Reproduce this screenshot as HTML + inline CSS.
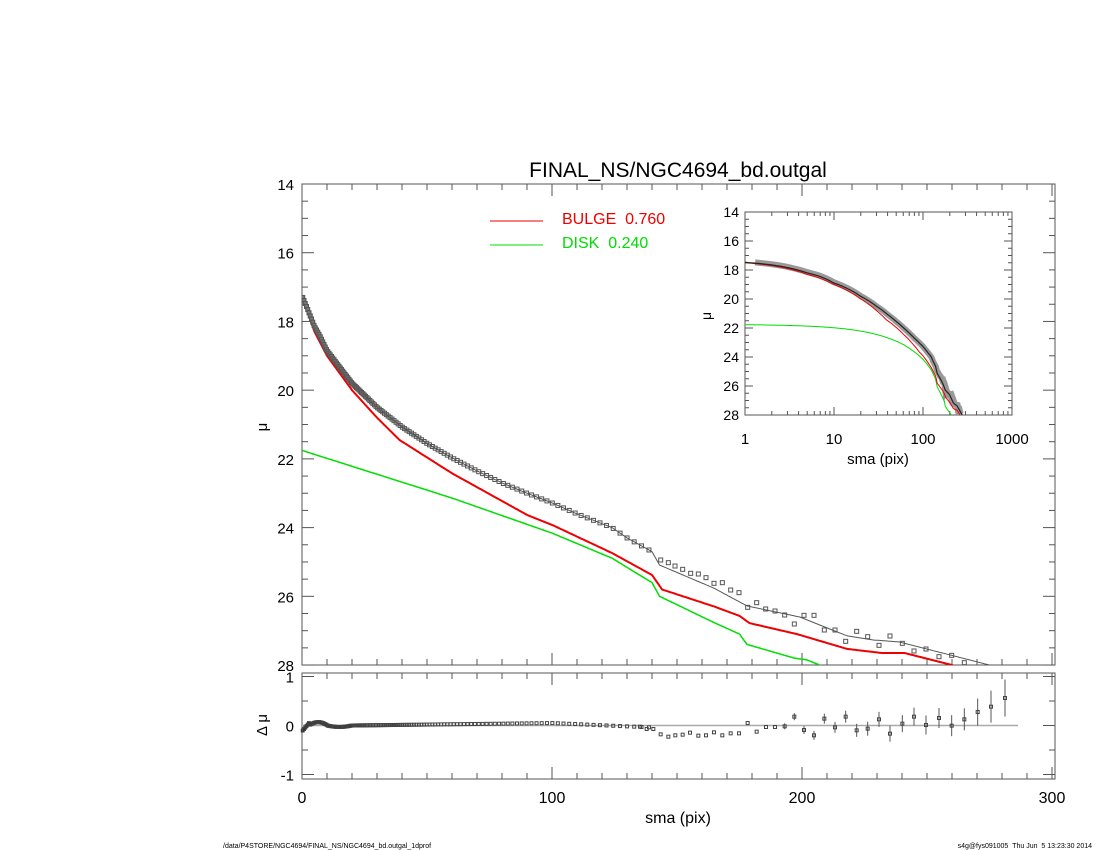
<!DOCTYPE html>
<html><head><meta charset="utf-8"><style>
html,body{margin:0;padding:0;background:#fff;}
svg{display:block;font-family:"Liberation Sans",sans-serif;}
</style></head><body>
<svg id="s" width="1100" height="850" xmlns="http://www.w3.org/2000/svg">
<rect width="1100" height="850" fill="#fff"/>
<text x="678" y="177" font-size="21" text-anchor="middle">FINAL_NS/NGC4694_bd.outgal</text>
<g id="main"></g>
<line x1="490" y1="221" x2="543" y2="221" stroke="#e00" stroke-width="1"/>
<line x1="490" y1="245" x2="543" y2="245" stroke="#0d0" stroke-width="1"/>
<text x="562" y="224" font-size="16" fill="#e00">BULGE&#160;&#160;0.760</text>
<text x="562" y="248" font-size="16" fill="#0d0">DISK&#160;&#160;0.240</text>
<text x="678" y="823" font-size="16" text-anchor="middle">sma (pix)</text>
<text x="223" y="848" font-size="7">/data/P4STORE/NGC4694/FINAL_NS/NGC4694_bd.outgal_1dprof</text>
<text x="1092" y="848" font-size="7" text-anchor="end">s4g@fys091005&#160;&#160;Thu Jun&#160;&#160;5 13:23:30 2014</text>
</svg>
<script>
var NS="http://www.w3.org/2000/svg",g=document.getElementById('main');
function el(t,a,p){var e=document.createElementNS(NS,t);for(var k in a)e.setAttribute(k,a[k]);(p||g).appendChild(e);return e;}
function txt(x,y,s,sz,anc,extra){var e=el('text',Object.assign({x:x,y:y,'font-size':sz,'text-anchor':anc||'middle'},extra||{}));e.textContent=s;return e;}
function interp(t,x){for(var i=0;i<t.length-1;i++){if(x<=t[i+1][0]){var f=(x-t[i][0])/(t[i+1][0]-t[i][0]);return t[i][1]+f*(t[i+1][1]-t[i][1]);}}return t[t.length-1][1];}
var D=[[0,17.25],[2,17.6],[5,18.15],[7,18.4],[10,18.85],[20,19.8],[30,20.5],[40,21.07],[50,21.55],[60,21.97],[70,22.35],[80,22.7],[90,23.0],[100,23.28],[110,23.6],[124,24.0],[130,24.3],[140,24.7]];
var M=[[0,17.3],[2,17.65],[5,18.2],[7,18.45],[10,18.9],[20,19.82],[30,20.5],[40,21.07],[50,21.55],[60,21.97],[70,22.35],[80,22.7],[90,23.0],[100,23.28],[110,23.6],[124,24.0],[130,24.3],[140,24.7],[143,25.09],[164.7,25.76],[178,26.28],[199,26.6],[218,27.15],[228.5,27.27],[239,27.33],[275,28.0],[285,28.3]];
var B=[[0,17.3],[2,17.7],[5,18.3],[10,19.0],[20,20.0],[30,20.8],[39,21.45],[60,22.42],[90,23.63],[100,23.92],[124,24.74],[135,25.18],[140,25.38],[144,25.8],[165,26.3],[175,26.57],[179,26.78],[198,27.1],[218,27.53],[232,27.65],[241,27.65],[260,28.0],[270,28.3]];
var K=[[0,21.75],[2,21.8],[60,23.14],[100,24.16],[124,24.89],[135,25.38],[140,25.6],[143,26.0],[165,26.77],[175,27.1],[178,27.4],[197,27.8],[202,27.85],[207,28.0],[212,28.2]];
var X0=302,X1=1055,Y0=184,Y1=665;
function px(x){return X0+x*2.5;} function py(m){return Y0+(m-14)*34.36;}
var cp=el('clipPath',{id:'c1'});el('rect',{x:X0,y:Y0,width:X1-X0,height:Y1-Y0},cp);
el('rect',{x:X0,y:Y0,width:X1-X0,height:Y1-Y0,fill:'none',stroke:'#555'});
for(var m=14;m<=28;m+=0.5){var y=py(m),L=(m%2==0)?12:6;el('line',{x1:X0,y1:y,x2:X0+L,y2:y,stroke:'#555'});el('line',{x1:X1,y1:y,x2:X1-L,y2:y,stroke:'#555'});if(m%2==0)txt(X0-8,y+6,m,15,'end');}
for(var x=0;x<=300;x+=10){var xx=px(x),L=(x%100==0)?12:6;el('line',{x1:xx,y1:Y0,x2:xx,y2:Y0+L,stroke:'#555'});el('line',{x1:xx,y1:Y1,x2:xx,y2:Y1-L,stroke:'#555'});}
txt(262,432,'μ',15,'middle',{transform:'rotate(-90 262 427)'});
var gc=el('g',{'clip-path':'url(#c1)'});
function line(t,col,w,fx,fy,par,xmax){var s='';for(var x=0;x<=xmax;x+=0.5){s+=(s?'L':'M')+fx(x).toFixed(1)+','+fy(interp(t,x)).toFixed(1);}el('path',{d:s,fill:'none',stroke:col,'stroke-width':w},par);}
line(K,'#0d0',1.5,px,py,gc,212);line(B,'#e00',2,px,py,gc,270);line(M,'#555',1,px,py,gc,285);
// data points
var xs=[];for(var x=0.3;x<=141;){xs.push(x);x=Math.max(x+0.5,x*1.022);}
var extra=[[62,60],[85,68],[105,78],[128,88],[152,100],[175,102],[198,113],[222,130],[247,128],[272,150],[297,158],[323,202],[350,188],[377,207],[405,213],[434,225],[463,252],[492,226],[522,226],[553,270],[585,270],[617,304],[650,274],[683,290],[717,316],[750,288],[787,310],[822,333],[858,327],[897,350],[935,346],[973,368]];
var pts=xs.map(function(x){return [px(x),py(interp(D,x)),x];});
extra.forEach(function(p){pts.push([640+p[0]/3,540+p[1]/3,99]);});
pts.forEach(function(p){el('rect',{x:p[0]-2,y:p[1]-2,width:4,height:4,fill:p[2]<25?'#777':'none',stroke:'#555','stroke-width':1},gc);});
// residual panel
var R0=673,R1=779;function ry(v){return 725.5-v*49;}
el('rect',{x:X0,y:R0,width:X1-X0,height:R1-R0,fill:'none',stroke:'#555'});
[1,0,-1].forEach(function(v){txt(X0-8,ry(v)+6,v,15,'end');});
for(var v=-1;v<=1;v+=0.5){el('line',{x1:X0,y1:ry(v),x2:X0+(v%1==0?12:6),y2:ry(v),stroke:'#555'});el('line',{x1:X1,y1:ry(v),x2:X1-(v%1==0?12:6),y2:ry(v),stroke:'#555'});}
for(var x=0;x<=300;x+=10){var xx=px(x),L=(x%100==0)?12:6;el('line',{x1:xx,y1:R0,x2:xx,y2:R0+L,stroke:'#555'});el('line',{x1:xx,y1:R1,x2:xx,y2:R1-L,stroke:'#555'});}
[0,100,200,300].forEach(function(x){txt(px(x),803,x,16);});
txt(262,730,'Δ μ',15,'middle',{transform:'rotate(-90 262 725)'});
el('line',{x1:X0,y1:725.5,x2:1018,y2:725.5,stroke:'#aaa','stroke-width':1.5});
xs.forEach(function(x){var r;if(x<3)r=-0.12+x*0.06;else if(x<10)r=0.06*Math.sin((x-3)/7*Math.PI)+0.01;else if(x<20)r=-0.03*Math.sin((x-10)/10*Math.PI);else if(x<100)r=0.05*(x-20)/80;else if(x<141)r=0.05-0.09*(x-100)/40;
 el('rect',{x:px(x)-1.5,y:ry(r)-1.5,width:3,height:3,fill:x<20?'#222':'none',stroke:'#444','stroke-width':1});});
var RP=[[0,170],[20,177],[40,177],[62,193],[85,200],[106,196],[128,194],[150,188],[175,197],[198,196],[222,187],[247,196],[272,190],[297,190],[323,159],[350,185],[378,171],[405,171],[434,169],[463,140],[492,180],[522,196],[553,146],[585,172],[617,140],[650,181],[683,176],[717,148],[750,191],[787,161],[822,140],[858,165],[897,144],[935,167],[973,148],[1013,126],[1053,110],[1095,84]];
RP.forEach(function(p,i){var x=640+p[0]/3,y=670+p[1]/3;if(i>=18){var e=(3+(i-18)*0.5)+(i>=35?(i-34)*2:0);el('line',{x1:x,y1:y-e,x2:x,y2:y+e,stroke:'#555'});}
 el('rect',{x:x-1.5,y:y-1.5,width:3,height:3,fill:'none',stroke:'#444','stroke-width':1});});
// inset
var I0=745,I1=1012,J0=212,J1=415;function ix(x){return I0+Math.log10(x)*89;}function iy(m){return J0+(m-14)*14.5;}
el('rect',{x:I0-5,y:J0-5,width:I1-I0+10,height:J1-J0+10,fill:'#fff'});
var cp2=el('clipPath',{id:'c2'});el('rect',{x:I0,y:J0,width:I1-I0,height:J1-J0},cp2);
el('rect',{x:I0,y:J0,width:I1-I0,height:J1-J0,fill:'none',stroke:'#555'});
for(var m=14;m<=28;m+=0.5){var y=iy(m),L=(m%2==0)?8:4;el('line',{x1:I0,y1:y,x2:I0+L,y2:y,stroke:'#555'});el('line',{x1:I1,y1:y,x2:I1-L,y2:y,stroke:'#555'});if(m%2==0)txt(I0-6,y+5,m,14,'end');}
for(var d=0;d<3;d++)for(var k=1;k<10;k++){var xx=ix(k*Math.pow(10,d)),L=k==1?8:4;el('line',{x1:xx,y1:J0,x2:xx,y2:J0+L,stroke:'#555'});el('line',{x1:xx,y1:J1,x2:xx,y2:J1-L,stroke:'#555'});}
[1,10,100,1000].forEach(function(v,i){txt(I0+i*89,444,v,15);});
txt(878,464,'sma (pix)',15);
txt(707,320,'μ',14,'middle',{transform:'rotate(-90 707 316)'});
var gi=el('g',{'clip-path':'url(#c2)'});
function lline(t,col,w,xmax){var s='';for(var lx=0;lx<=Math.log10(xmax);lx+=0.01){var x=Math.pow(10,lx);s+=(s?'L':'M')+ix(x).toFixed(1)+','+iy(interp(t,x)).toFixed(1);}el('path',{d:s,fill:'none',stroke:col,'stroke-width':w},gi);}
var ds='';xs.forEach(function(x){if(x>=1){ds+=(ds?'L':'M')+ix(x).toFixed(1)+','+iy(interp(D,x)).toFixed(1);}});
extra.forEach(function(p){var x=(640+p[0]/3-302)/2.5,m=(540+p[1]/3-184)/34.36+14;ds+='L'+ix(x).toFixed(1)+','+iy(m).toFixed(1);});
el('path',{d:ds,fill:'none',stroke:'#999','stroke-width':6},gi);
lline(K,'#0d0',1,212);lline(B,'#e00',1,270);lline(M,'#222',1.2,285);
</script>
</body></html>
